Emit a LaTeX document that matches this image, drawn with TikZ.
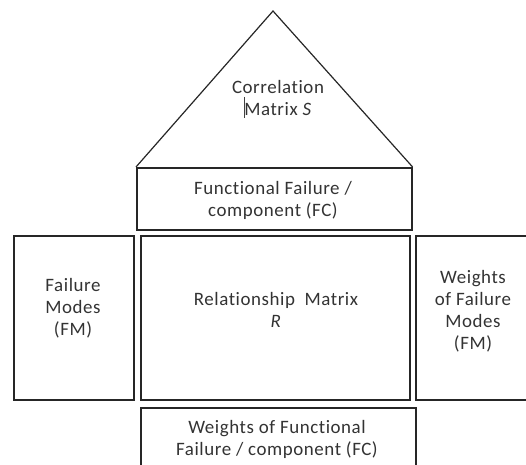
\documentclass[tikz,border=0pt]{standalone}
\usepackage{fontspec}
\setmainfont{Carlito}
\newfontfamily\txtfont[LetterSpace=3,Ligatures=NoCommon]{Carlito}
\begin{document}
\begin{tikzpicture}[x=1bp,y=-1bp,
  box/.style={draw=black!85, line width=1.6bp, inner sep=0pt, minimum width=#1},
  txt/.style={font=\txtfont\fontsize{19}{22}\selectfont, align=center, text=black!80, inner sep=0pt}]
\useasboundingbox (0,0) rectangle (526,465);
\clip (0,0) rectangle (526,465);
% boxes
\node[box=275bp, minimum height=62bp, anchor=north west] (fc) at (136,167) {};
\node[box=120bp, minimum height=164bp, anchor=north west] (fm) at (13,235) {};
\node[box=269bp, minimum height=164bp, anchor=north west] (rm) at (140,235) {};
\node[box=115bp, minimum height=164bp, anchor=north west] (wfm) at (415,235) {};
\node[box=275bp, minimum height=70bp, anchor=north west] (wfc) at (140,407) {};
% roof
\coordinate (apex) at (273,11);
\draw[black!85, line width=1.2bp, line join=miter] (fc.north west) -- (apex) -- (fc.north east);
% texts
\node[txt] (corrt) at (278,98) {Correlation\\Matrix \textit{S}};
\draw[black!75, line width=1bp] (244,97) -- (244,118);
\node[txt] (fct) at (273,200) {Functional Failure /\\component (FC)};
\node[txt] (fmt) at (73,308) {Failure\\Modes\\(FM)};
\node[txt] (rmt) at (276,310) {Relationship\ \ Matrix\\\textit{R}};
\node[txt] (wfmt) at (473,311) {Weights\\of Failure\\Modes\\(FM)};
\node[txt] (wfct) at (277,439) {Weights of Functional\\Failure / component (FC)};
\end{tikzpicture}
\end{document}
